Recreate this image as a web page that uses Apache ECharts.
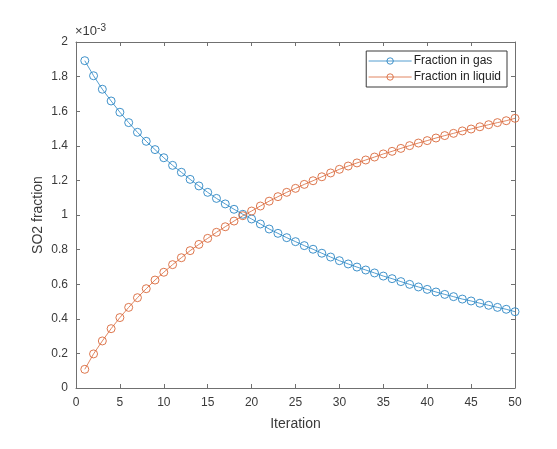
<!DOCTYPE html>
<html>
<head>
<meta charset="utf-8">
<script src="https://cdn.jsdelivr.net/npm/echarts@6/dist/echarts.min.js"></script>
<style>html,body{margin:0;padding:0;background:#fff;}#c{width:557px;height:449px;}</style>
</head>
<body>
<div id="c"></div>
<script>
// Values in units of 1e-3
const iterations = Array.from({length: 50}, (_, i) => i + 1);
const fractionGas = [1.892, 1.805, 1.727, 1.659, 1.594, 1.534, 1.478, 1.426, 1.378, 1.331,
  1.287, 1.247, 1.206, 1.168, 1.131, 1.096, 1.064, 1.033, 1.004, 0.977,
  0.948, 0.919, 0.894, 0.869, 0.846, 0.823, 0.802, 0.779, 0.757, 0.736,
  0.717, 0.699, 0.682, 0.665, 0.647, 0.632, 0.615, 0.599, 0.584, 0.570,
  0.555, 0.541, 0.528, 0.514, 0.503, 0.490, 0.478, 0.466, 0.455, 0.441];
const fractionLiquid = [0.108, 0.197, 0.272, 0.343, 0.407, 0.466, 0.522, 0.574, 0.624, 0.669,
  0.713, 0.753, 0.794, 0.830, 0.865, 0.900, 0.932, 0.965, 0.996, 1.023,
  1.052, 1.080, 1.106, 1.131, 1.154, 1.177, 1.198, 1.221, 1.243, 1.264,
  1.283, 1.301, 1.318, 1.335, 1.353, 1.368, 1.385, 1.401, 1.416, 1.430,
  1.445, 1.459, 1.472, 1.486, 1.497, 1.510, 1.522, 1.534, 1.545, 1.559];
const seriesNames = ['Fraction in gas', 'Fraction in liquid'];
const xLabel = 'Iteration';
const yLabel = 'SO2 fraction';

const axisColor = '#707070';
const textColor = '#3a3a3a';
const font = 'Liberation Sans, Arial, Helvetica, sans-serif';

const chart = echarts.init(document.getElementById('c'));
const mkX = (show) => ({
  type: 'value', min: 0, max: 50, interval: 5,
  position: show ? 'bottom' : 'top',
  axisLine: {show: true, onZero: false, lineStyle: {color: axisColor, width: 1}},
  axisTick: {show: true, inside: true, length: 4, lineStyle: {color: axisColor}},
  axisLabel: {show: show, color: textColor, fontSize: 12, fontFamily: font, margin: 9},
  splitLine: {show: false},
  name: show ? xLabel : '', nameLocation: 'middle', nameGap: 29, nameMoveOverlap: false,
  nameTextStyle: {color: textColor, fontSize: 14, fontFamily: font}
});
const mkY = (show) => ({
  type: 'value', min: 0, max: 2, interval: 0.2,
  position: show ? 'left' : 'right',
  axisLine: {show: true, onZero: false, lineStyle: {color: axisColor, width: 1}},
  axisTick: {show: true, inside: true, length: 4, lineStyle: {color: axisColor}},
  axisLabel: {show: show, color: textColor, fontSize: 12, fontFamily: font, margin: 8},
  splitLine: {show: false},
  name: show ? yLabel : '', nameLocation: 'middle', nameGap: 31, nameRotate: 90, nameMoveOverlap: false,
  nameTextStyle: {color: textColor, fontSize: 14, fontFamily: font}
});
const colors = ['#2a86c4', '#d9683a'];
const mkSeries = (name, vals, color) => ({
  name: name, type: 'line',
  data: iterations.map((x, i) => [x, vals[i]]),
  symbol: 'circle', symbolSize: 8, showSymbol: true,
  lineStyle: {color: color, width: 0.8},
  itemStyle: {color: 'rgba(255,255,255,0)', borderColor: color, borderWidth: 0.9},
  emphasis: {disabled: true},
  animation: false
});
chart.setOption({
  animation: false,
  grid: {left: 76, right: 42, top: 42, bottom: 61, containLabel: false},
  xAxis: [mkX(true), mkX(false)],
  yAxis: [mkY(true), mkY(false)],
  legend: {
    data: seriesNames,
    orient: 'vertical', right: 50, top: 51,
    itemWidth: 43, itemHeight: 8, itemGap: 4,
    padding: [4, 6, 4, 2],
    lineStyle: {width: 0.8},
    itemStyle: {borderWidth: 0.9},
    backgroundColor: '#fff', borderColor: '#3a3a3a', borderWidth: 1,
    textStyle: {color: '#222', fontSize: 12, fontFamily: font, padding: [0, 0, 0, -3]}
  },
  graphic: [{
    type: 'text', left: 75, top: 23,
    style: {
      text: '×10{s|-3}',
      rich: {s: {fontSize: 10, verticalAlign: 'top', color: textColor, fontFamily: font, padding: [0, 0, 7, 0]}},
      fill: textColor, fontSize: 13, fontFamily: font
    }
  }],
  series: [mkSeries(seriesNames[0], fractionGas, colors[0]), mkSeries(seriesNames[1], fractionLiquid, colors[1])]
});
</script>
</body>
</html>
